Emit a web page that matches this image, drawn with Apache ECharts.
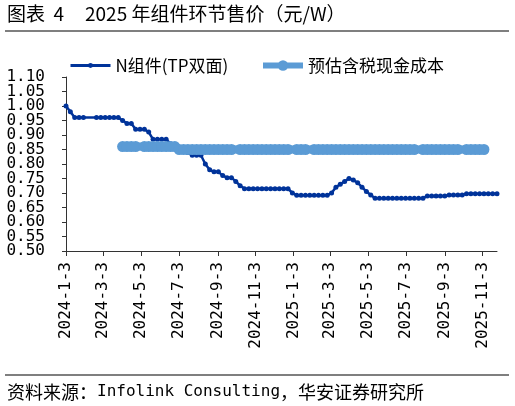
<!DOCTYPE html>
<html><head><meta charset="utf-8">
<script src="https://cdn.jsdelivr.net/npm/echarts@6/dist/echarts.min.js"></script>
<style>html,body{margin:0;padding:0;background:#fff}#c{width:515px;height:406px}</style>
</head><body><div id="c"></div>
<script>
// ---- data ----
const startDate = '2024-1-3';   // first weekly observation
const endDate = '2025-11-26';   // last weekly observation
const nModuleName = 'N组件(TP双面)';
const costName = '预估含税现金成本';
const tickLabels = ['2024-1-3','2024-3-3','2024-5-3','2024-7-3','2024-9-3','2024-11-3',
                    '2025-1-3','2025-3-3','2025-5-3','2025-7-3','2025-9-3','2025-11-3'];
const yMin = 0.5, yMax = 1.1, yStep = 0.05;
// weekly values, week 0 = 2024-1-3 (null = no observation)
const nModule = [
  1.00, 0.98, 0.96, 0.96, 0.96, null, null, 0.96, 0.96, 0.96,
  0.96, 0.96, 0.96, 0.95, 0.94, 0.94, 0.92, 0.92, 0.92, 0.91,
  0.885, 0.885, 0.885, 0.885, 0.87, 0.86, 0.85, 0.845, 0.84, 0.83,
  0.83, 0.83, 0.80, 0.78, 0.773, 0.773, 0.76, 0.753, 0.753, 0.74,
  0.725, 0.715, 0.715, 0.715, 0.715, 0.715, 0.715, 0.715, 0.715, 0.715,
  0.715, 0.715, 0.70, 0.692, 0.692, 0.692, 0.692, 0.692, 0.692, 0.692,
  0.692, 0.70, 0.72, 0.73, 0.74, 0.75, 0.745, 0.735, 0.72, 0.705,
  0.693, 0.682, 0.682, 0.682, 0.682, 0.682, 0.682, 0.682, 0.682, 0.682,
  0.682, 0.682, 0.682, 0.69, 0.69, 0.69, 0.69, 0.69, 0.693, 0.693,
  0.693, 0.693, 0.697, 0.697, 0.697, 0.697, 0.697, 0.697, 0.697, 0.697
];
const cashCost = [
  null, null, null, null, null, null, null, null, null, null,
  null, null, null, 0.86, 0.86, 0.86, 0.86, null, 0.86, 0.86,
  0.86, 0.86, 0.86, 0.86, 0.86, 0.86, 0.85, 0.85, 0.85, 0.85,
  0.85, 0.85, 0.85, 0.85, 0.85, 0.85, 0.85, 0.85, 0.85, null,
  0.85, 0.85, 0.85, 0.85, 0.85, 0.85, 0.85, 0.85, 0.85, 0.85,
  0.85, 0.85, null, 0.85, 0.85, 0.85, null, 0.85, 0.85, 0.85,
  0.85, 0.85, 0.85, 0.85, 0.85, 0.85, 0.85, 0.85, 0.85, 0.85,
  0.85, 0.85, 0.85, 0.85, 0.85, 0.85, 0.85, 0.85, 0.85, 0.85,
  0.85, null, 0.85, 0.85, 0.85, 0.85, 0.85, 0.85, 0.85, 0.85,
  0.85, null, 0.85, 0.85, 0.85, 0.85, 0.85, null, null, null
];

// ---- daily category axis ----
function parse(s){ const p = s.split('-').map(Number); return Date.UTC(p[0], p[1]-1, p[2]); }
function fmt(t){ const d = new Date(t); return d.getUTCFullYear()+'-'+(d.getUTCMonth()+1)+'-'+d.getUTCDate(); }
const days = [];
for (let t = parse(startDate); t <= parse(endDate); t += 86400000) days.push(fmt(t));
const weekDate = i => days[i*7];
const pairs = arr => arr.map((v,i)=> v==null ? null : [weekDate(i), v]).filter(Boolean);

const monoFont = "'DejaVu Sans Mono', monospace";
const cjkFont = "'Noto Sans CJK SC', sans-serif";
const showTick = (i, v) => tickLabels.indexOf(v) >= 0;
const navy = '#00339A', light = '#5B9BD5';
const yLabelStyle = {margin: 21, fontFamily: monoFont, fontSize: 16, color: '#000'};
const isEnd = v => Math.abs(v - yMin) < 1e-6 || Math.abs(v - yMax) < 1e-6;

const chart = echarts.init(document.getElementById('c'));
chart.setOption({
  animation: false,
  grid: {left: 66, right: 18, top: 77, bottom: 155},
  legend: [
    {left: 64, top: 52, itemWidth: 40, itemHeight: 6,
     data: [{name: nModuleName}], lineStyle: {width: 3},
     textStyle: {fontSize: 17, fontFamily: cjkFont, color: '#000'}},
    {left: 255, top: 52, itemWidth: 40, itemHeight: 13,
     data: [{name: costName}], lineStyle: {width: 6},
     textStyle: {fontSize: 17, fontFamily: cjkFont, color: '#000'}}
  ],
  xAxis: {
    type: 'category', data: days, boundaryGap: false,
    axisLine: {lineStyle: {color: '#333', width: 1}},
    axisTick: {interval: showTick, length: 5, lineStyle: {color: '#333'}},
    axisLabel: {interval: showTick, rotate: 90, margin: 11, fontFamily: monoFont, fontSize: 16, color: '#000',
                showMinLabel: true, showMaxLabel: true},
    splitLine: {show: false}
  },
  yAxis: [
    { // inner labels
      type: 'value', min: yMin, max: yMax, interval: yStep, position: 'left',
      axisLine: {show: true, lineStyle: {color: '#333', width: 1}},
      axisTick: {show: true, length: 4, lineStyle: {color: '#333'}},
      axisLabel: Object.assign({formatter: v => v.toFixed(2), showMinLabel: false, showMaxLabel: false}, yLabelStyle),
      splitLine: {show: false}
    },
    { // end labels (same scale)
      type: 'value', min: yMin, max: yMax, interval: yStep, position: 'left',
      axisLine: {show: false},
      axisTick: {show: true, length: 4, lineStyle: {color: '#333'}},
      axisLabel: Object.assign({formatter: v => isEnd(v) ? v.toFixed(2) : '', showMinLabel: true, showMaxLabel: true}, yLabelStyle),
      splitLine: {show: false}
    }
  ],
  series: [
    {name: nModuleName, type: 'line', yAxisIndex: 0, data: pairs(nModule), symbol: 'circle', symbolSize: 5,
     showAllSymbol: true, lineStyle: {width: 2.5, color: navy}, itemStyle: {color: navy}, z: 2},
    {name: costName, type: 'line', yAxisIndex: 0, data: pairs(cashCost), symbol: 'circle', symbolSize: 11,
     showAllSymbol: true, lineStyle: {width: 8, color: light}, itemStyle: {color: light}, z: 3}
  ],
  graphic: [
    {type: 'text', left: 7, top: 4, style: {text: '图表  4', fontSize: 19, fontFamily: cjkFont, fill: '#000'}},
    {type: 'text', left: 85, top: 4, style: {text: '2025 年组件环节售价（元/W）', fontSize: 19, fontFamily: cjkFont, fill: '#000'}},
    {type: 'line', shape: {x1: 5, y1: 31, x2: 509, y2: 31}, style: {stroke: '#555', lineWidth: 1.5}},
    {type: 'line', shape: {x1: 5, y1: 375, x2: 509, y2: 375}, style: {stroke: '#555', lineWidth: 1.5}},
    {type: 'text', left: 7, top: 383, style: {
      text: '{c|资料来源：}{l|Infolink Consulting}{c|，华安证券研究所}',
      rich: {c: {fontSize: 18, fontFamily: cjkFont, fill: '#000'}, l: {fontSize: 16, fontFamily: monoFont, fill: '#000'}},
      fill: '#000'}}
  ]
});
</script></body></html>
